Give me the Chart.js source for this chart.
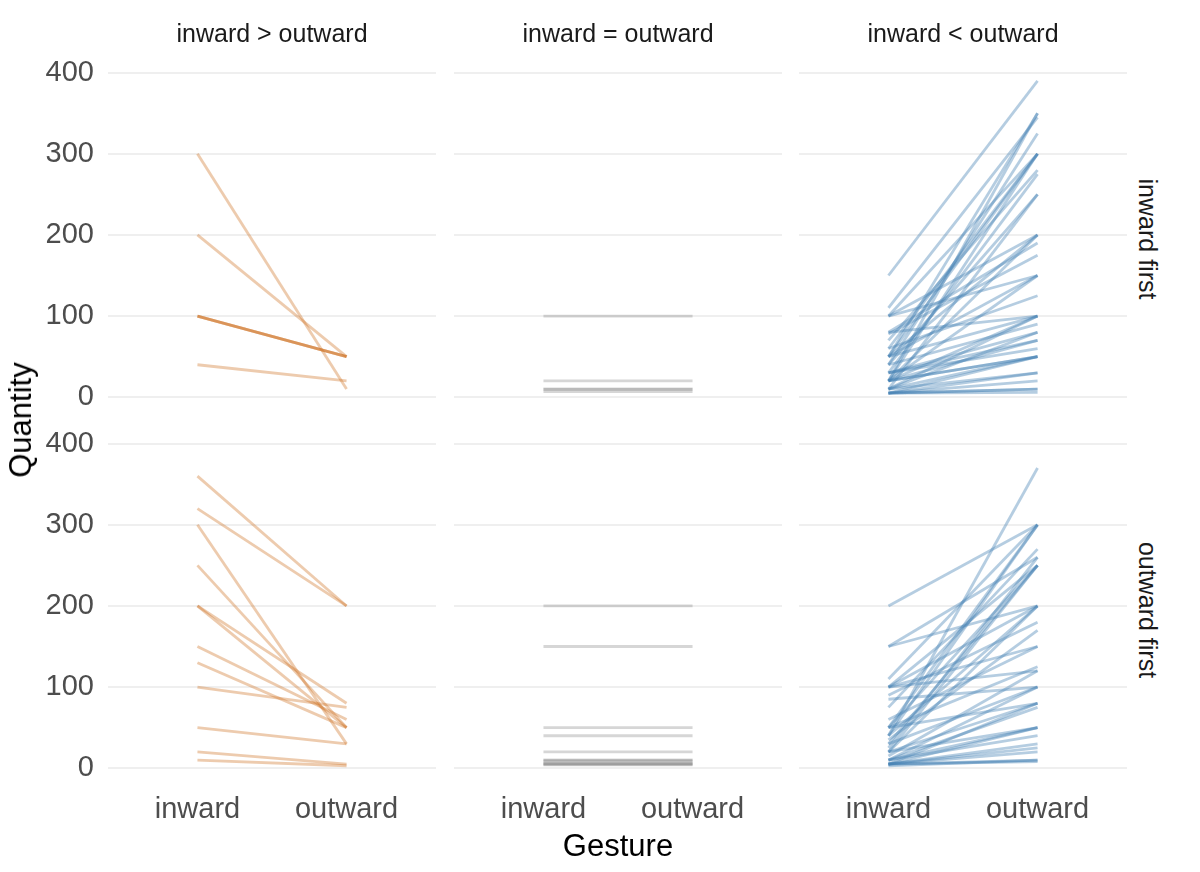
<!DOCTYPE html>
<html>
<head>
<meta charset="utf-8">
<script src="https://cdn.jsdelivr.net/npm/chart.js@4.4.0/dist/chart.umd.min.js"></script>
<style>
body { margin: 0; background: #fff; font-family: "Liberation Sans", Arial, sans-serif; }
#wrap { position: relative; width: 1200px; height: 872px; overflow: hidden; }
canvas { position: absolute; }
.lab { position: absolute; white-space: nowrap; transform: translate(-50%, -50%); }
</style>
</head>
<body>
<div id="wrap"></div>
<script>
var gestures = ["inward", "outward"];
var yTicks = [0, 100, 200, 300, 400];
var colTitles = ["inward > outward", "inward = outward", "inward < outward"];
var rowTitles = ["inward first", "outward first"];

// inward first row
var ifGtIn  = [300, 200, 100, 100, 100, 40];
var ifGtOut = [10, 50, 50, 50, 50, 20];
var ifEqIn  = [100, 20, 10, 10, 7];
var ifEqOut = [100, 20, 10, 10, 7];
var ifLtIn  = [150, 110, 100, 100, 100, 80, 80, 78, 70, 60, 50, 50, 50, 50, 50, 40, 40, 40, 30, 30, 30,
               20, 20, 20, 20, 20, 20, 20, 20, 10, 10, 10, 10, 5, 5, 5, 5, 5, 5, 30, 60, 10];
var ifLtOut = [390, 345, 200, 150, 300, 190, 100, 175, 280, 125, 350, 300, 150, 100, 200, 325, 250, 90, 275, 80, 60,
               350, 300, 200, 150, 100, 50, 50, 70, 50, 100, 30, 80, 20, 10, 50, 6, 10, 30, 70, 300, 250];

// outward first row
var ofGtIn  = [360, 320, 300, 250, 200, 200, 150, 130, 100, 50, 20, 10];
var ofGtOut = [200, 200, 30, 50, 80, 50, 60, 50, 75, 30, 5, 3];
var ofEqIn  = [200, 150, 50, 40, 20, 10, 10, 8, 6, 5, 5, 4];
var ofEqOut = [200, 150, 50, 40, 20, 10, 10, 8, 6, 5, 5, 4];
var ofLtIn  = [200, 150, 150, 110, 100, 100, 100, 100, 90, 85, 75, 60, 50, 50, 50, 50, 40, 35, 30, 30,
               40, 20, 20, 20, 20, 10, 10, 10, 10, 5, 5, 5, 5, 5, 5, 3, 25, 5, 15, 40];
var ofLtOut = [300, 200, 260, 300, 200, 250, 120, 150, 180, 100, 270, 150, 300, 250, 125, 80, 200, 170, 250, 100,
               370, 250, 200, 80, 50, 100, 50, 40, 75, 50, 30, 20, 10, 25, 8, 10, 260, 80, 120, 300];

var panels = [
  [[ifGtIn, ifGtOut], [ifEqIn, ifEqOut], [ifLtIn, ifLtOut]],
  [[ofGtIn, ofGtOut], [ofEqIn, ofEqOut], [ofLtIn, ofLtOut]]
];
var lineColors = ["rgba(205,110,30,0.36)", "rgba(128,128,128,0.32)", "rgba(70,130,180,0.40)"];

var colLeft = [108, 454, 799];
var colW = 328;
var rowTop = [64.9, 435.9];
var rowH = 348.3;
var padT = 20;
var wrap = document.getElementById("wrap");

function addLabel(text, x, y, size, color, rot) {
  var d = document.createElement("div");
  d.className = "lab";
  d.textContent = text;
  d.style.left = x + "px";
  d.style.top = y + "px";
  d.style.fontSize = size + "px";
  d.style.color = color;
  if (rot) d.style.transform = "translate(-50%, -50%) rotate(" + rot + "deg)";
  wrap.appendChild(d);
}

for (var r = 0; r < 2; r++) {
  for (var c = 0; c < 3; c++) {
    var left = c == 0 ? 0 : colLeft[c];
    var w = c == 0 ? colLeft[0] + colW : colW;
    var yAxisW = c == 0 ? colLeft[0] : 0;
    var xAxisH = r == 1 ? 70 : 0;
    var h = padT + rowH + (r == 1 ? xAxisH : 20);

    var cv = document.createElement("canvas");
    cv.width = w; cv.height = h;
    cv.style.left = left + "px";
    cv.style.top = (rowTop[r] - padT) + "px";
    cv.style.width = w + "px";
    cv.style.height = h + "px";
    wrap.appendChild(cv);

    var ins = panels[r][c][0], outs = panels[r][c][1];
    var datasets = [];
    for (var i = 0; i < ins.length; i++) {
      datasets.push({
        data: [{x: 1, y: ins[i]}, {x: 2, y: outs[i]}],
        borderColor: lineColors[c],
        borderWidth: 2.8,
        pointRadius: 0,
        fill: false
      });
    }

    new Chart(cv, {
      type: "line",
      data: { datasets: datasets },
      options: {
        responsive: false,
        animation: false,
        events: [],
        layout: { padding: { top: padT, bottom: r == 1 ? 0 : 20, left: 0, right: 0 } },
        plugins: { legend: { display: false }, tooltip: { enabled: false } },
        scales: {
          x: {
            type: "linear",
            min: 0.4, max: 2.6,
            display: r == 1,
            grid: { display: false },
            border: { display: false },
            afterBuildTicks: function (s) { s.ticks = [{value: 1}, {value: 2}]; },
            afterFit: (function (hh) { return function (s) { s.height = hh; s.paddingLeft = 0; s.paddingRight = 0; }; })(xAxisH),
            ticks: {
              padding: 1,
              color: "#4d4d4d",
              font: { family: "Liberation Sans", size: 29 },
              callback: function (v) { return gestures[v - 1]; }
            }
          },
          y: {
            type: "linear",
            min: -19.5, max: 409.5,
            grid: { color: "#efefef", lineWidth: 2, drawTicks: false },
            border: { display: false },
            afterBuildTicks: function (s) { s.ticks = yTicks.map(function (v) { return {value: v}; }); },
            afterFit: (function (ww) { return function (s) { s.width = ww; s.paddingTop = 0; s.paddingBottom = 0; }; })(yAxisW),
            ticks: {
              display: c == 0,
              padding: 14,
              color: "#4d4d4d",
              font: { family: "Liberation Sans", size: 29 }
            }
          }
        }
      }
    });
  }
}

for (var k = 0; k < 3; k++) addLabel(colTitles[k], colLeft[k] + colW / 2, 33, 25, "#1a1a1a");
addLabel(rowTitles[0], 1147, rowTop[0] + rowH / 2, 25, "#1a1a1a", 90);
addLabel(rowTitles[1], 1147, rowTop[1] + rowH / 2, 25, "#1a1a1a", 90);
addLabel("Quantity", 21, 420, 31, "#000", -90);
addLabel("Gesture", colLeft[1] + colW / 2, 846, 31, "#000");
</script>
</body>
</html>
